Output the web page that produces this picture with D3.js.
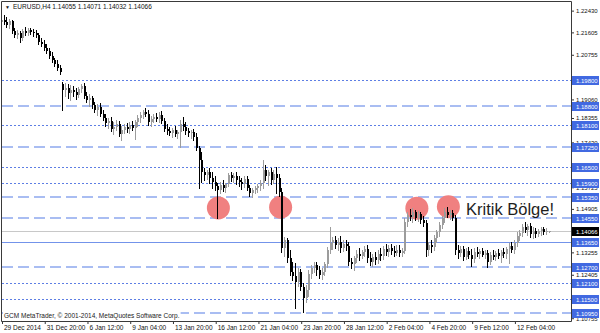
<!DOCTYPE html>
<html>
<head>
<meta charset="utf-8">
<script src="https://cdn.jsdelivr.net/npm/d3@7"></script>
<style>
  body { margin: 0; background: #fff; }
  svg { display: block; }
</style>
</head>
<body>
<div id="chart"></div>
<script>
// EURUSD H4 candles, 29 Dec 2014 .. 13 Feb 2015
// [open, high, low, close]
const ohlc = [
  [1.2200,1.2216,1.2185,1.2208],[1.2208,1.2227,1.2193,1.2200],[1.2200,1.2219,1.2181,1.2189],[1.2189,1.2212,1.2178,1.2204],
  [1.2204,1.2208,1.2159,1.2166],[1.2166,1.2178,1.2143,1.2151],[1.2151,1.2170,1.2140,1.2159],[1.2159,1.2166,1.2124,1.2140],
  [1.2140,1.2174,1.2132,1.2166],[1.2166,1.2181,1.2151,1.2159],[1.2159,1.2178,1.2151,1.2170],[1.2170,1.2178,1.2155,1.2162],
  [1.2162,1.2174,1.2147,1.2159],[1.2159,1.2170,1.2143,1.2151],[1.2151,1.2159,1.2117,1.2124],[1.2124,1.2140,1.2109,1.2117],
  [1.2117,1.2132,1.2094,1.2102],[1.2102,1.2117,1.2083,1.2090],[1.2090,1.2102,1.2064,1.2071],[1.2071,1.2086,1.2048,1.2056],
  [1.2056,1.2064,1.2033,1.2041],[1.2041,1.2056,1.2018,1.2026],[1.2026,1.2037,1.2003,1.2010],[1.1965,1.1972,1.1866,1.1942],
  [1.1942,1.1969,1.1919,1.1950],[1.1950,1.1965,1.1912,1.1931],[1.1931,1.1961,1.1904,1.1942],[1.1942,1.1957,1.1919,1.1934],
  [1.1934,1.1950,1.1908,1.1923],[1.1923,1.1953,1.1915,1.1946],[1.1946,1.1965,1.1934,1.1957],[1.1957,1.1969,1.1912,1.1919],
  [1.1919,1.1934,1.1896,1.1904],[1.1904,1.1927,1.1881,1.1912],[1.1912,1.1919,1.1874,1.1885],[1.1885,1.1896,1.1858,1.1866],
  [1.1866,1.1889,1.1847,1.1877],[1.1877,1.1893,1.1843,1.1851],[1.1851,1.1866,1.1828,1.1836],[1.1836,1.1851,1.1805,1.1817],
  [1.1817,1.1836,1.1798,1.1824],[1.1824,1.1839,1.1786,1.1794],[1.1794,1.1820,1.1775,1.1801],[1.1801,1.1828,1.1790,1.1813],
  [1.1813,1.1824,1.1767,1.1775],[1.1775,1.1805,1.1752,1.1790],[1.1790,1.1813,1.1779,1.1801],[1.1801,1.1817,1.1782,1.1794],
  [1.1794,1.1820,1.1779,1.1809],[1.1809,1.1824,1.1790,1.1798],[1.1798,1.1828,1.1756,1.1820],[1.1820,1.1847,1.1805,1.1836],
  [1.1836,1.1858,1.1820,1.1847],[1.1847,1.1866,1.1836,1.1858],[1.1858,1.1874,1.1843,1.1851],[1.1851,1.1866,1.1809,1.1820],
  [1.1820,1.1843,1.1805,1.1832],[1.1832,1.1851,1.1820,1.1839],[1.1839,1.1855,1.1824,1.1832],[1.1832,1.1858,1.1820,1.1847],
  [1.1847,1.1862,1.1817,1.1824],[1.1824,1.1836,1.1786,1.1794],[1.1794,1.1813,1.1775,1.1786],[1.1786,1.1801,1.1771,1.1779],
  [1.1779,1.1798,1.1763,1.1790],[1.1790,1.1805,1.1767,1.1775],[1.1775,1.1790,1.1760,1.1782],[1.1782,1.1828,1.1725,1.1813],
  [1.1813,1.1839,1.1790,1.1801],[1.1801,1.1820,1.1775,1.1786],[1.1786,1.1798,1.1767,1.1779],[1.1779,1.1790,1.1760,1.1782],
  [1.1782,1.1794,1.1752,1.1763],[1.1763,1.1779,1.1714,1.1722],[1.1722,1.1729,1.1570,1.1676],[1.1676,1.1706,1.1592,1.1630],
  [1.1630,1.1646,1.1600,1.1619],[1.1619,1.1638,1.1604,1.1630],[1.1630,1.1646,1.1589,1.1608],[1.1608,1.1630,1.1570,1.1592],
  [1.1592,1.1615,1.1562,1.1577],[1.1577,1.1589,1.1456,1.1562],[1.1562,1.1592,1.1551,1.1581],[1.1581,1.1600,1.1558,1.1570],
  [1.1570,1.1589,1.1554,1.1585],[1.1585,1.1627,1.1577,1.1619],[1.1619,1.1630,1.1596,1.1608],[1.1608,1.1627,1.1592,1.1615],
  [1.1615,1.1630,1.1585,1.1600],[1.1600,1.1615,1.1577,1.1592],[1.1592,1.1608,1.1566,1.1585],[1.1585,1.1615,1.1573,1.1604],
  [1.1604,1.1615,1.1562,1.1570],[1.1570,1.1581,1.1539,1.1551],[1.1551,1.1570,1.1535,1.1562],[1.1562,1.1577,1.1551,1.1570],
  [1.1570,1.1585,1.1554,1.1577],[1.1577,1.1600,1.1562,1.1589],[1.1589,1.1676,1.1570,1.1638],[1.1638,1.1657,1.1600,1.1615],
  [1.1615,1.1638,1.1581,1.1630],[1.1630,1.1646,1.1585,1.1600],[1.1600,1.1638,1.1589,1.1623],[1.1623,1.1649,1.1551,1.1608],
  [1.1608,1.1623,1.1539,1.1554],[1.1554,1.1570,1.1326,1.1342],[1.1342,1.1383,1.1311,1.1372],[1.1372,1.1380,1.1288,1.1304],
  [1.1304,1.1334,1.1239,1.1250],[1.1250,1.1288,1.1220,1.1235],[1.1235,1.1285,1.1114,1.1212],[1.1212,1.1266,1.1197,1.1250],
  [1.1250,1.1262,1.1182,1.1193],[1.1193,1.1209,1.1098,1.1152],[1.1152,1.1201,1.1136,1.1182],[1.1182,1.1258,1.1159,1.1243],
  [1.1243,1.1277,1.1228,1.1266],[1.1266,1.1288,1.1250,1.1277],[1.1277,1.1288,1.1239,1.1258],[1.1258,1.1273,1.1228,1.1239],
  [1.1239,1.1266,1.1224,1.1250],[1.1250,1.1288,1.1239,1.1281],[1.1281,1.1345,1.1269,1.1334],[1.1334,1.1421,1.1323,1.1361],
  [1.1361,1.1383,1.1338,1.1372],[1.1372,1.1387,1.1342,1.1353],[1.1353,1.1380,1.1334,1.1364],[1.1364,1.1387,1.1326,1.1342],
  [1.1342,1.1372,1.1330,1.1357],[1.1357,1.1372,1.1334,1.1349],[1.1349,1.1364,1.1277,1.1288],[1.1288,1.1304,1.1266,1.1281],
  [1.1281,1.1311,1.1258,1.1304],[1.1304,1.1334,1.1288,1.1319],[1.1319,1.1342,1.1296,1.1311],[1.1311,1.1334,1.1304,1.1326],
  [1.1326,1.1349,1.1311,1.1338],[1.1338,1.1353,1.1288,1.1304],[1.1304,1.1326,1.1277,1.1288],[1.1288,1.1319,1.1273,1.1307],
  [1.1307,1.1326,1.1281,1.1296],[1.1296,1.1334,1.1285,1.1319],[1.1319,1.1342,1.1296,1.1311],[1.1311,1.1349,1.1300,1.1338],
  [1.1338,1.1357,1.1315,1.1326],[1.1326,1.1353,1.1311,1.1342],[1.1342,1.1357,1.1319,1.1330],[1.1330,1.1349,1.1311,1.1323],
  [1.1323,1.1353,1.1315,1.1334],[1.1334,1.1353,1.1311,1.1323],[1.1323,1.1342,1.1311,1.1330],[1.1330,1.1456,1.1323,1.1440],
  [1.1440,1.1478,1.1425,1.1467],[1.1467,1.1490,1.1448,1.1459],[1.1459,1.1494,1.1440,1.1478],[1.1478,1.1486,1.1448,1.1456],
  [1.1456,1.1482,1.1444,1.1471],[1.1471,1.1478,1.1437,1.1448],[1.1448,1.1463,1.1425,1.1437],[1.1437,1.1448,1.1311,1.1334],
  [1.1334,1.1364,1.1315,1.1353],[1.1353,1.1372,1.1326,1.1345],[1.1345,1.1391,1.1334,1.1380],[1.1380,1.1410,1.1364,1.1402],
  [1.1402,1.1440,1.1387,1.1429],[1.1429,1.1463,1.1418,1.1456],[1.1456,1.1494,1.1440,1.1478],[1.1478,1.1497,1.1459,1.1467],
  [1.1467,1.1486,1.1452,1.1475],[1.1475,1.1486,1.1448,1.1456],[1.1456,1.1467,1.1319,1.1334],[1.1334,1.1353,1.1304,1.1323],
  [1.1323,1.1349,1.1311,1.1338],[1.1338,1.1349,1.1296,1.1307],[1.1307,1.1342,1.1300,1.1330],[1.1330,1.1345,1.1304,1.1315],
  [1.1315,1.1338,1.1273,1.1300],[1.1300,1.1342,1.1288,1.1326],[1.1326,1.1345,1.1311,1.1319],[1.1319,1.1338,1.1304,1.1330],
  [1.1330,1.1342,1.1311,1.1315],[1.1315,1.1334,1.1304,1.1323],[1.1323,1.1334,1.1269,1.1288],[1.1288,1.1326,1.1281,1.1315],
  [1.1315,1.1334,1.1300,1.1307],[1.1307,1.1330,1.1296,1.1323],[1.1323,1.1338,1.1304,1.1311],[1.1311,1.1334,1.1288,1.1326],
  [1.1326,1.1342,1.1307,1.1319],[1.1319,1.1345,1.1304,1.1338],[1.1338,1.1361,1.1285,1.1349],[1.1349,1.1364,1.1326,1.1334],
  [1.1334,1.1372,1.1323,1.1361],[1.1361,1.1402,1.1349,1.1387],[1.1387,1.1410,1.1372,1.1399],[1.1399,1.1433,1.1387,1.1421],
  [1.1421,1.1440,1.1402,1.1410],[1.1410,1.1433,1.1391,1.1425],[1.1425,1.1437,1.1383,1.1395],[1.1395,1.1421,1.1380,1.1406],
  [1.1406,1.1418,1.1383,1.1395],[1.1395,1.1414,1.1387,1.1406],[1.1406,1.1421,1.1391,1.1414],[1.1414,1.1421,1.1395,1.1402],
  [1.1402,1.1418,1.1395,1.1406],[1.14055,1.14071,1.14032,1.14066]
];

const symbol = "EURUSD,H4";
const lastPrice = 1.14066;

// time scale labels (bar index -> text)
const timeTicks  = [0, 16, 32, 48, 64, 80, 96, 112, 128, 144, 160, 176, 192];
const timeLabels = ["29 Dec 2014", "31 Dec 20:00", "6 Jan 12:00", "9 Jan 04:00", "13 Jan 20:00",
                    "16 Jan 12:00", "21 Jan 04:00", "23 Jan 20:00", "28 Jan 12:00", "2 Feb 04:00",
                    "4 Feb 20:00", "9 Feb 12:00", "12 Feb 04:00"];

// price scale labels that can be seen (the rest sit under the level boxes)
const priceTicks = [1.22430, 1.21605, 1.20755, 1.19830, 1.19060, 1.18355, 1.17430,
                    1.15725, 1.14905, 1.13255, 1.12405, 1.10755];

// horizontal levels drawn on the chart
const dottedLevels = [1.19800, 1.18100, 1.16500, 1.15900, 1.12100, 1.11500];
const dashedLevels = [1.18800, 1.17250, 1.15350, 1.14550, 1.12700, 1.10950];
const solidLevels  = [1.13650];

// marked zones (bar index, price)
const zoneBars   = [81, 104.3, 155.3, 167.1];
const zonePrices = [1.1494, 1.1497, 1.1493, 1.1499];

const noteText  = "Kritik Bölge!";
const noteBar   = 173.7;
const notePrice = 1.1467;

const copyright = "GCM MetaTrader, © 2001-2014, MetaQuotes Software Corp.";

const width = 600, height = 333;
const left = 2, right = 571, bottom = 321;
const smallFont = "Liberation Sans, Arial, sans-serif";

let svg = d3.select("#chart").append("svg")
    .attr("width", width)
    .attr("height", height);

svg.append("rect").attr("width", width).attr("height", height).attr("fill", "#fff");

let x = d3.scaleLinear().domain([0, 213]).range([left, right]);
let y = d3.scaleLinear().domain([1.1065, 1.2272]).range([bottom, 3]);

const fmt = d3.format(".5f");
const py = p => Math.round(y(p)) + 0.5;

// levels
let lines = svg.append("g");
function levelLines(data, color, w, dash) {
    lines.selectAll(null)
        .data(data)
        .enter().append("line")
        .attr("x1", left).attr("x2", right)
        .attr("y1", d => w % 2 ? py(d) : Math.round(y(d)))
        .attr("y2", d => w % 2 ? py(d) : Math.round(y(d)))
        .attr("stroke", color)
        .attr("stroke-width", w)
        .attr("stroke-dasharray", dash);
}
levelLines(dottedLevels, "#5d7ee4", 1, "2,2");
levelLines(dashedLevels, "#a9bdf2", 2, "11,5");
levelLines(solidLevels, "#7393ea", 1, null);

// bid line
svg.append("line")
    .attr("x1", left).attr("x2", right)
    .attr("y1", py(lastPrice)).attr("y2", py(lastPrice))
    .attr("stroke", "#c8c8c8");

// marked zones (filled, behind the candles)
svg.append("g").selectAll("circle")
    .data(zoneBars)
    .enter().append("circle")
    .attr("cx", d => x(d))
    .attr("cy", (d, i) => y(zonePrices[i]))
    .attr("r", 11.5)
    .attr("fill", "#f08080");

// candles
let candles = svg.append("g").attr("shape-rendering", "crispEdges");
candles.selectAll("g")
    .data(ohlc)
    .enter().append("g")
    .each(function (d, i) {
        let g = d3.select(this);
        let [o, h, l, c] = d;
        let color = c >= o ? "#9c9c9c" : "#000";
        let cx = Math.round(x(i));
        g.append("line")
            .attr("x1", cx - 0.5).attr("x2", cx - 0.5)
            .attr("y1", Math.round(y(h))).attr("y2", Math.round(y(l)) + 1)
            .attr("stroke", color);
        let top = Math.round(y(Math.max(o, c)));
        let bot = Math.round(y(Math.min(o, c)));
        g.append("rect")
            .attr("x", cx - 1).attr("width", 2)
            .attr("y", top).attr("height", Math.max(1, bot - top))
            .attr("fill", color);
    });

// note
svg.append("text")
    .attr("x", x(noteBar))
    .attr("y", y(notePrice))
    .attr("font-family", "Liberation Sans, Arial, sans-serif")
    .attr("font-size", 16.5)
    .attr("fill", "#1e1e1e")
    .text(noteText);

// price scale
let yAxis = svg.append("g")
    .attr("transform", "translate(" + right + ",0)")
    .call(d3.axisRight(y).tickValues(priceTicks).tickFormat(fmt).tickSize(3).tickSizeOuter(0).tickPadding(2));
yAxis.select(".domain").remove();
yAxis.attr("font-family", smallFont).attr("font-size", 6);
yAxis.selectAll("line").attr("stroke", "#333");
yAxis.selectAll("text").attr("fill", "#111");

// level boxes on the price scale
let boxes = svg.append("g");
function levelBoxes(data, fill) {
    let b = boxes.selectAll(null)
        .data(data)
        .enter().append("g")
        .attr("transform", d => "translate(" + (right + 1) + "," + Math.round(y(d)) + ")");
    b.append("rect")
        .attr("x", 0).attr("y", -4)
        .attr("width", 27).attr("height", 9)
        .attr("fill", fill);
    b.append("text")
        .attr("x", 4).attr("y", 0.5)
        .attr("dy", "0.34em")
        .attr("font-family", smallFont)
        .attr("font-size", 6)
        .attr("fill", "#fff")
        .text(d => fmt(d));
}
levelBoxes(dottedLevels.concat(dashedLevels, solidLevels), "#4169e1");
levelBoxes([lastPrice], "#000");

// time scale
let xAxis = svg.append("g")
    .attr("transform", "translate(0," + bottom + ")")
    .call(d3.axisBottom(x).tickValues(timeTicks).tickFormat((d, i) => timeLabels[i]).tickSize(3).tickSizeOuter(0).tickPadding(1));
xAxis.select(".domain").remove();
xAxis.attr("font-family", smallFont).attr("font-size", 6.5);
xAxis.selectAll("line").attr("stroke", "#333");
xAxis.selectAll("text").attr("text-anchor", "start").attr("dx", 1.5).attr("fill", "#111");

// frame
svg.append("path")
    .attr("d", "M" + (left - 0.5) + ",1.5V" + (bottom + 0.5) + "H" + (right + 0.5) + "V1.5Z")
    .attr("fill", "none")
    .attr("stroke", "#3a3a3a");

// title
let title = svg.append("text")
    .attr("x", 5).attr("y", 9)
    .attr("font-family", smallFont)
    .attr("font-size", 6.5)
    .attr("fill", "#111");
title.append("tspan").attr("font-size", 5).text("▼");
title.append("tspan").attr("x", 13).text(symbol + "  " + ohlc[ohlc.length - 1].map(v => fmt(v)).join(" "));

// copyright with a white backing
let cg = svg.append("g");
let ct = cg.append("text")
    .attr("x", 4).attr("y", 317.5)
    .attr("font-family", smallFont)
    .attr("font-size", 6.5)
    .attr("fill", "#222")
    .text(copyright);
let bb = ct.node().getBBox();
cg.insert("rect", "text")
    .attr("x", bb.x - 1).attr("y", bb.y)
    .attr("width", bb.width + 2).attr("height", bb.height)
    .attr("fill", "#fff");
</script>
</body>
</html>
